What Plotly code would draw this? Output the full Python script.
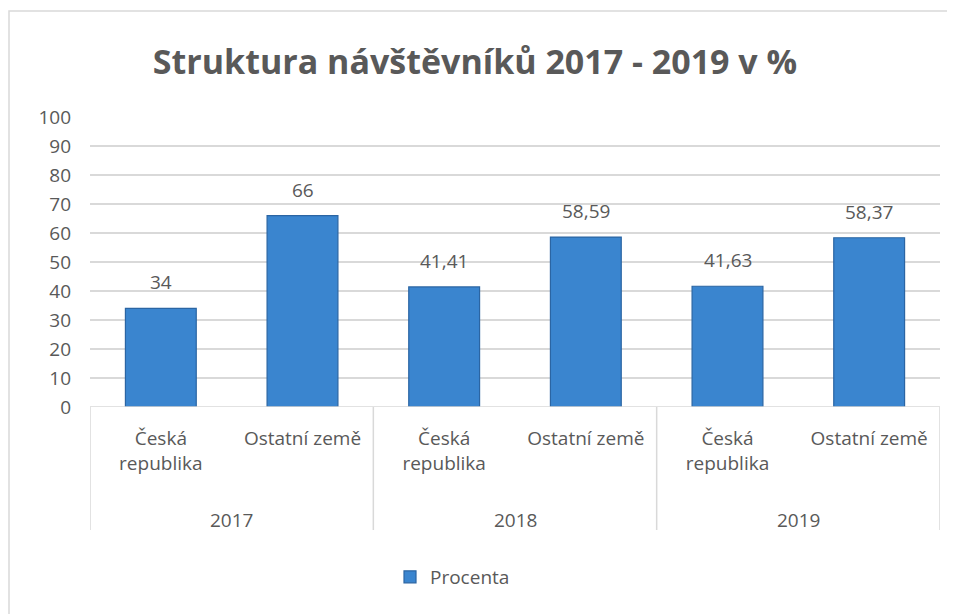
import plotly.graph_objects as go

years = ["2017", "2018", "2019"]
categories = ["Česká republika", "Ostatní země"]
values = [34, 66, 41.41, 58.59, 41.63, 58.37]
series_name = "Procenta"
y_ticks = [0, 10, 20, 30, 40, 50, 60, 70, 80, 90, 100]

TXT = "#595959"
FONT = "Open Sans"
FS = 19

# page offset (browser body margin) = 8px
L, T = 82, 109
PW, PH = 850, 290

n_cat = len(categories)
xs = list(range(len(values)))
tick_text = [categories[i % n_cat].replace(" ", "<br>", 1) if categories[i % n_cat] == "Česká republika"
             else categories[i % n_cat] for i in xs]

fig = go.Figure()
fig.add_trace(go.Bar(
    x=xs, y=values, name=series_name, width=0.5,
    marker=dict(color="#3a85cf", line=dict(color="#2b65a3", width=1.2)),
    showlegend=True,
))

annotations = []
for x, v in zip(xs, values):
    annotations.append(dict(
        x=x, y=v, xref="x", yref="y", text=("%g" % v).replace(".", ","),
        showarrow=False, yanchor="bottom", yshift=11,
        font=dict(family=FONT, size=FS, color=TXT)))
for gi, yr in enumerate(years):
    annotations.append(dict(
        x=gi * n_cat + (n_cat - 1) / 2, y=-(520 - 407) / PH, xref="x", yref="paper",
        text=yr, showarrow=False, yanchor="middle",
        font=dict(family=FONT, size=FS, color=TXT)))

shapes = []
# chart border (figure-left edge, page top 11)
shapes.append(dict(type="rect", xref="paper", yref="paper",
                   x0=(1 - L) / PW, x1=1.2, y0=-1.2, y1=(407 - 11) / PH,
                   line=dict(color="#d9d9d9", width=1.5), layer="below"))
# group dividers
for gi in range(len(years) + 1):
    shapes.append(dict(type="line", xref="x", yref="paper",
                       x0=gi * n_cat - 0.5, x1=gi * n_cat - 0.5,
                       y0=0, y1=-(530 - 407) / PH,
                       line=dict(color="#d9d9d9", width=1.5)))
# baseline
shapes.append(dict(type="line", xref="paper", yref="y", x0=0, x1=1, y0=0, y1=0,
                   line=dict(color="#d9d9d9", width=1.5)))

fig.update_layout(
    width=955, height=614,
    margin=dict(l=L, r=955 - L - PW, t=T, b=614 - T - PH),
    paper_bgcolor="white", plot_bgcolor="white",
    title=dict(text="<b>Struktura návštěvníků 2017 - 2019 v %</b>",
               x=(475 - 8) / 955, xanchor="center", y=1 - (62 - 8) / 614, yanchor="middle",
               font=dict(family=FONT, size=34, color=TXT)),
    xaxis=dict(range=[-0.5, len(values) - 0.5], tickvals=xs, ticktext=tick_text,
               showgrid=False, zeroline=False, showline=False, ticks="",
               ticklabelstandoff=18,
               tickfont=dict(family=FONT, size=FS, color=TXT)),
    yaxis=dict(range=[0, 100], tickvals=y_ticks, showgrid=True, gridcolor="#d9d9d9",
               gridwidth=1.5, zeroline=False, showline=False, ticks="",
               ticklabelstandoff=18,
               tickfont=dict(family=FONT, size=FS, color=TXT)),
    legend=dict(orientation="h", x=(390 - 8 - L) / PW, xanchor="left",
                y=-(577 - 407) / PH, yanchor="middle",
                font=dict(family=FONT, size=FS, color=TXT)),
    annotations=annotations, shapes=shapes,
)

fig.write_html("out.html")
